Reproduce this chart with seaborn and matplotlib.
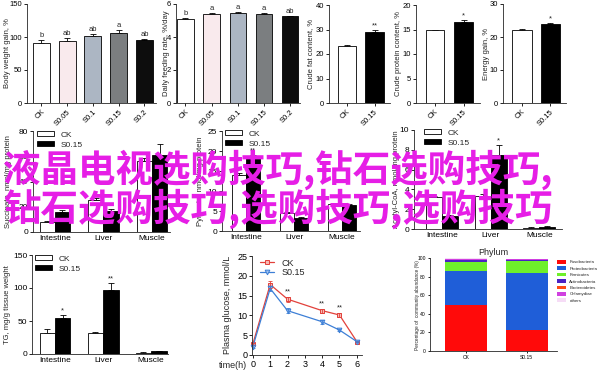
import numpy as np
import pandas as pd
import matplotlib
matplotlib.use("Agg")
import matplotlib.pyplot as plt
from matplotlib.patches import Patch
import seaborn as sns

# ======================= data =======================
dose_labels = ["CK", "S0.05", "S0.1", "S0.15", "S0.2"]
dose_colors = ["#ffffff", "#fbe8ec", "#a8b5c7", "#7a7e81", "#0d0d0d"]
weight_gain = [91, 94, 102, 106, 95]
weight_gain_err = [4, 5, 3, 5, 2]
weight_gain_sig = ["b", "ab", "ab", "a", "ab"]
feeding_rate = [5.1, 5.4, 5.45, 5.4, 5.25]
feeding_rate_err = [0.08, 0.05, 0.06, 0.07, 0.05]
feeding_rate_sig = ["b", "a", "a", "a", "ab"]

pair_labels = ["CK", "S0.15"]
crude_fat = [23.2, 28.8]
crude_fat_err = [0.4, 1.1]
crude_protein = [14.8, 16.5]
crude_protein_err = [0.1, 0.4]
energy_gain = [22.0, 24.0]
energy_gain_err = [0.3, 0.3]

tissues = ["Intestine", "Liver", "Muscle"]
succinate_ck = [8, 25, 56]
succinate_ck_err = [1, 2, 3]
succinate_s = [16, 16.5, 61]
succinate_s_err = [1.5, 2, 9]
pyruvate_ck = [14, 4.5, 6.7]
pyruvate_ck_err = [0.5, 0.3, 0.2]
pyruvate_s = [18.5, 3.3, 6.5]
pyruvate_s_err = [0.5, 0.3, 0.3]
acetyl_ck = [3.2, 3.3, 0.15]
acetyl_ck_err = [0.1, 0.2, 0.03]
acetyl_s = [1.3, 7.5, 0.25]
acetyl_s_err = [0.1, 1.0, 0.05]
tg_ck = [32, 32, 2]
tg_ck_err = [6, 2, 0.5]
tg_s = [55, 97, 4]
tg_s_err = [4, 10, 1]

hours = [0, 1, 2, 4, 5, 6]
glucose_ck = [2.8, 17.8, 14.1, 11.2, 10.1, 3.4]
glucose_ck_err = [0.3, 1.0, 0.6, 0.5, 0.4, 0.2]
glucose_s = [2.1, 16.8, 11.2, 8.4, 6.3, 3.4]
glucose_s_err = [0.3, 0.7, 0.6, 0.5, 0.3, 0.2]

phyla = ["Fusobacteria", "Proteobacteria", "Firmicutes", "Actinobacteria",
         "Bacteroidetes", "Chlamydiae", "others"]
phyla_colors = ["#ff0a0a", "#1f5ed8", "#6ef02a", "#4a22c4", "#ff4a14", "#d040e0", "#f6dcf6"]
phylum_ck = [50, 36.5, 9.5, 1.5, 0.3, 1.2, 0.5]
phylum_s = [23, 60.5, 13.5, 0.6, 0.2, 0.8, 0.4]

overlay_lines = ["液晶电视选购技巧,钻石选购技巧,", "钻石选购技巧,选购技巧,选购技巧"]

# ======================= style =======================
sns.set_theme(style="ticks")
plt.rcParams["font.family"] = ["Liberation Sans", "DejaVu Sans"]
plt.rcParams["axes.linewidth"] = 0.6
plt.rcParams["xtick.major.width"] = 0.6
plt.rcParams["ytick.major.width"] = 0.6
plt.rcParams["xtick.major.size"] = 2.2
plt.rcParams["ytick.major.size"] = 2.2
plt.rcParams["xtick.major.pad"] = 1.5
plt.rcParams["ytick.major.pad"] = 1.2

W, H = 600, 372
fig = plt.figure(figsize=(6, 3.72), dpi=100)


def box(l, t, r, b):
    return [l / W, 1 - b / H, (r - l) / W, (b - t) / H]


def fxy(x, y):
    return (x / W, 1 - y / H)


def prism(ax, fs):
    sns.despine(ax=ax)
    ax.tick_params(labelsize=fs, colors="black")
    ax.set_xlabel("")


def up_err(ax, x, y, e, cap=2.3):
    ax.errorbar(x, y, yerr=[np.zeros(len(e)), e], fmt="none", ecolor="black",
                elinewidth=0.6, capsize=cap, capthick=0.6, zorder=1)


def single_bars(rect, labels, colors, vals, errs, width, xlim, ylim, yticks, ylabel, ylab_x, sig, sig_off):
    ax = fig.add_axes(box(*rect))
    sns.barplot(x=labels, y=vals, hue=labels, palette=colors, legend=False, width=width,
                edgecolor="black", linewidth=0.6, ax=ax, zorder=2)
    up_err(ax, np.arange(len(vals)), vals, errs)
    for i, s in enumerate(sig):
        ax.text(i, vals[i] + errs[i] + sig_off, s, ha="center", va="bottom", fontsize=5.5)
    ax.set_xlim(*xlim)
    ax.set_ylim(*ylim)
    ax.set_yticks(yticks)
    prism(ax, 5.5)
    ax.set_xticks(range(len(labels)))
    ax.set_xticklabels(labels, rotation=45, ha="right", rotation_mode="anchor")
    ax.set_ylabel("")
    fig.text(ylab_x / W, 1 - (rect[1] + rect[3]) / 2 / H, ylabel, rotation=90,
             ha="center", va="center", fontsize=5.5)
    return ax


def grouped_bars(rect, ck, ck_err, s, s_err, width, xlim, ylim, yticks, ylabel, ylab_x, stars, leg_xy, fs=6):
    ax = fig.add_axes(box(*rect))
    df = pd.DataFrame({"tissue": tissues * 2,
                       "group": ["CK"] * 3 + ["S0.15"] * 3,
                       "value": list(ck) + list(s)})
    sns.barplot(data=df, x="tissue", y="value", hue="group", palette=["white", "black"],
                width=width, edgecolor="black", linewidth=0.6, errorbar=None,
                legend=False, ax=ax, zorder=2)
    pos = np.arange(3)
    up_err(ax, pos - width / 4, ck, ck_err)
    up_err(ax, pos + width / 4, s, s_err)
    for i, st in stars:
        ax.text(i + width / 4, s[i] + s_err[i] + (ylim[1] * 0.005), st, ha="center",
                va="bottom", fontsize=5.5)
    ax.set_xlim(*xlim)
    ax.set_ylim(*ylim)
    ax.set_yticks(yticks)
    prism(ax, fs)
    ax.tick_params(axis="x", length=0, pad=2.5)
    ax.set_ylabel("")
    fig.text(ylab_x / W, 1 - (rect[1] + rect[3]) / 2 / H, ylabel, rotation=90,
             ha="center", va="center", fontsize=5.5)
    handles = [Patch(facecolor="white", edgecolor="black", linewidth=0.6),
               Patch(facecolor="black", edgecolor="black", linewidth=0.6)]
    fig.legend(handles, ["CK", "S0.15"], loc="upper left", bbox_to_anchor=fxy(*leg_xy),
               frameon=False, fontsize=fs, handlelength=2.0, handleheight=0.6,
               labelspacing=0.3, borderpad=0, borderaxespad=0, handletextpad=0.8)
    return ax


# ======================= top row =======================
single_bars((27, 4, 156, 103), dose_labels, dose_colors, weight_gain, weight_gain_err, 0.66,
            (-0.56, 4.45), (0, 150), [0, 50, 100, 150], "Body weight gain, %", 8,
            weight_gain_sig, 1.5)
single_bars((176, 4, 300, 103), dose_labels, dose_colors, feeding_rate, feeding_rate_err, 0.62,
            (-0.36, 4.38), (0, 6), [0, 2, 4, 6], "Daily feeding rate, %/day", 166,
            feeding_rate_sig, 0.06)
single_bars((329, 5, 390, 103), pair_labels, ["white", "black"], crude_fat, crude_fat_err, 0.67,
            (-0.65, 1.56), (0, 40), [0, 10, 20, 30, 40], "Crude fat content, %", 311,
            ["", "**"], 0.3)
single_bars((416, 5, 480, 103), pair_labels, ["white", "black"], crude_protein, crude_protein_err, 0.65,
            (-0.67, 1.58), (0, 20), [0, 5, 10, 15, 20], "Crude protein content, %", 398,
            ["", "*"], 0.15)
single_bars((503, 4, 566, 103), pair_labels, ["white", "black"], energy_gain, energy_gain_err, 0.68,
            (-0.67, 1.55), (0, 30), [0, 10, 20, 30], "Energy gain, %", 486,
            ["", "*"], 0.2)

# ======================= middle row =======================
grouped_bars((33, 131, 170, 232), succinate_ck, succinate_ck_err, succinate_s, succinate_s_err,
             0.62, (-0.45, 2.37), (0, 80), [0, 20, 40, 60, 80], "Succinate, nmol/mg protein", 9,
             [], (37, 131))
grouped_bars((222, 131, 360, 231), pyruvate_ck, pyruvate_ck_err, pyruvate_s, pyruvate_s_err,
             0.6, (-0.5, 2.375), (0, 25), [0, 5, 10, 15, 20, 25], "Pyruvate, nmol/mg protein", 201,
             [(0, "**")], (225, 130))
grouped_bars((414, 130, 562, 229), acetyl_ck, acetyl_ck_err, acetyl_s, acetyl_s_err,
             0.66, (-0.58, 2.47), (0, 10), [0, 2, 4, 6, 8, 10], "Acetyl-CoA, nmol/mg protein", 397,
             [(1, "*")], (424, 129))

# ======================= bottom row =======================
grouped_bars((32, 255, 168, 354), tg_ck, tg_ck_err, tg_s, tg_s_err,
             0.64, (-0.48, 2.35), (0, 150), [0, 50, 100, 150], "TG, mg/g tissue weight", 8,
             [(0, "*"), (1, "**")], (35, 255))

# plasma glucose
ax = fig.add_axes(box(252, 256, 362, 355))
red, blue = "#e2413b", "#3d7fd6"
sns.lineplot(x=hours, y=glucose_ck, color=red, marker="s", markersize=3.2, markerfacecolor="#f6b9b3",
             markeredgecolor=red, markeredgewidth=0.7, linewidth=0.9, ax=ax, label="CK", clip_on=False)
sns.lineplot(x=hours, y=glucose_s, color=blue, marker="v", markersize=3.4, markerfacecolor="#9fc1ef",
             markeredgecolor=blue, markeredgewidth=0.7, linewidth=0.9, ax=ax, label="S0.15", clip_on=False)
ax.errorbar(hours, glucose_ck, yerr=glucose_ck_err, fmt="none", ecolor=red, elinewidth=0.6,
            capsize=1.6, capthick=0.6)
ax.errorbar(hours, glucose_s, yerr=glucose_s_err, fmt="none", ecolor=blue, elinewidth=0.6,
            capsize=1.6, capthick=0.6)
for i in [2, 3, 4]:
    ax.text(hours[i], glucose_ck[i] + glucose_ck_err[i] + 0.4, "**", ha="center", va="bottom", fontsize=5.5)
ax.set_xlim(-0.05, 6.3)
ax.set_ylim(0, 25)
ax.set_xticks(range(7))
ax.set_yticks([0, 5, 10, 15, 20, 25])
prism(ax, 6.5)
ax.set_ylabel("")
ax.legend(loc="upper left", bbox_to_anchor=(0.03, 1.02), frameon=False, fontsize=6.5,
          handlelength=1.6, labelspacing=0.1, borderpad=0, handletextpad=0.8)
fig.text(228 / W, 1 - 305 / H, "Plasma glucose, mmol/L", rotation=90, ha="center", va="center", fontsize=6.5)
fig.text(233 / W, 1 - 365 / H, "time(h)", ha="center", va="center", fontsize=6.5)

# phylum stacked bars
ax = fig.add_axes(box(430, 258, 557, 351))
xpos = np.arange(2)
bottom = np.zeros(2)
for name, col, a, b in zip(phyla, phyla_colors, phylum_ck, phylum_s):
    vals = np.array([a, b])
    ax.bar(xpos, vals, bottom=bottom, width=0.69, color=col, label=name, linewidth=0)
    bottom += vals
ax.set_xlim(-0.6, 1.5)
ax.set_ylim(0, 100)
ax.set_xticks(xpos)
ax.set_xticklabels(pair_labels)
ax.set_yticks([0, 20, 40, 60, 80, 100])
prism(ax, 3.6)
ax.tick_params(length=1.5, pad=1.5)
ax.set_title("Phylum", fontsize=6.5, pad=2)
fig.text(418 / W, 1 - 305 / H, "Percentage of  community abundance (%)", rotation=90,
         ha="center", va="center", fontsize=3.4)
ax.legend(loc="upper left", bbox_to_anchor=fxy(557, 260), bbox_transform=fig.transFigure,
          frameon=False, fontsize=3.2, handlelength=2.0, handleheight=0.9, labelspacing=0.45,
          borderpad=0, borderaxespad=0, handletextpad=0.8)

# ======================= overlay text =======================
magenta = "#e61ee6"
for txt, yc in zip(overlay_lines, [170, 209]):
    fig.text(3 / W, 1 - yc / H, txt, fontsize=27, color=magenta, fontweight="bold",
             family=["Noto Sans CJK SC", "DejaVu Sans"], ha="left", va="center", zorder=10)

fig.savefig("out.png", dpi=100)
